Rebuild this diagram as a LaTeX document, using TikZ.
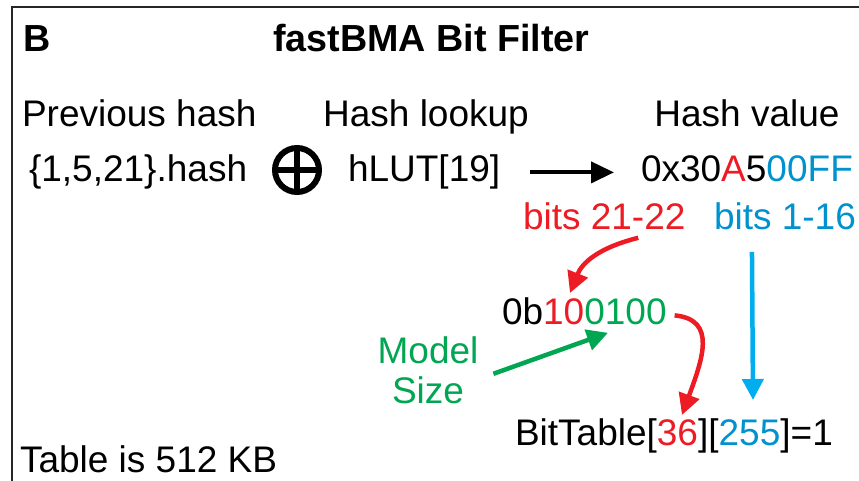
\documentclass[tikz,border=0pt]{standalone}
\usepackage{fontspec}
\setmainfont{Liberation Sans}
\usetikzlibrary{arrows.meta}

\definecolor{bitred}{HTML}{ED1C24}
\definecolor{bitblue}{HTML}{0092CF}
\definecolor{arrblue}{HTML}{00AEEF}
\definecolor{bitgreen}{HTML}{00A651}

\begin{document}
\begin{tikzpicture}[x=1bp,y=-1bp,
    txt/.style={inner sep=0pt, outer sep=0pt, anchor=base west,
        font=\fontsize{37bp}{44bp}\selectfont, text height=27bp, text depth=7.8bp},
    ctxt/.style={txt, anchor=base},
    head/.style={txt, font=\fontsize{37.7bp}{44bp}\selectfont\bfseries},
    link/.style={line width=4.5bp, -{Triangle[length=21bp,width=21bp]}}
]
\useasboundingbox (0,0) rectangle (859,481);
\draw[black!85, line width=1.5bp] (859,7) -- (12,7) -- (12,481);

\node[head] (panel) at (23,52) {B};
\node[head] (title) at (273,52) {fastBMA Bit Filter};

% first row: headings
\node[txt]  (prev)   at (22,127)  {Previous hash};
\node[ctxt] (lookup) at (426,127) {Hash lookup};
\node[ctxt] (hval)   at (747,127) {Hash value};

% second row
\node[txt] (prevhash) at (29,182) {\{1,5,21\}.hash};
\node[circle, draw, line width=6bp, minimum size=44bp, inner sep=0pt, outer sep=0pt] (xor) at (297,170) {};
\draw[line width=6bp] (xor.north) -- (xor.south);
\draw[line width=6bp] (xor.west) -- (xor.east);
\node[txt] (hlut) at (348,182) {hLUT[19]};
\node[txt] (hex)  at (641,182) {0x30{\color{bitred}A}5{\color{bitblue}00FF}};
\draw[line width=4bp, -{Triangle[length=23bp,width=21bp]}] ([xshift=30bp]hlut.east) -- ([xshift=-27bp]hex.west);

\node[txt, text=bitred]  (bitsA) at (523,230) {bits 21-22};
\node[txt, text=bitblue] (bitsB) at (714,230) {bits 1-16};

\node[txt] (bin) at (502,325) {0b{\color{bitred}10}{\color{bitgreen}0100}};
\node[ctxt, text=bitgreen] (model) at (428,363) {Model};
\node[ctxt, text=bitgreen] (size)  at (428,403) {Size};

\node[txt] (bt) at (515,445) {BitTable[{\color{bitred}36}][{\color{bitblue}255}]=1};
\node[txt] (tsize) at (20,472) {Table is 512 KB};

% arrows
\draw[link, bitred] ([xshift=34bp]bitsA.south) .. controls +(-40,10) and +(12,-30) .. ([xshift=68bp,yshift=5bp]bin.north west);
\draw[link, arrblue] ([xshift=-33bp,yshift=-14bp]bitsB.south) -- ([xshift=238bp,yshift=18bp]bt.north west);
\draw[link, bitred] ([xshift=8bp]bin.east) .. controls +(43,4) and +(20,-55) .. ([xshift=167bp,yshift=3bp]bt.north west);
\draw[link, bitgreen] ([xshift=15bp,yshift=-3bp]model.south east) -- ([xshift=106bp]bin.south west);

\end{tikzpicture}
\end{document}
